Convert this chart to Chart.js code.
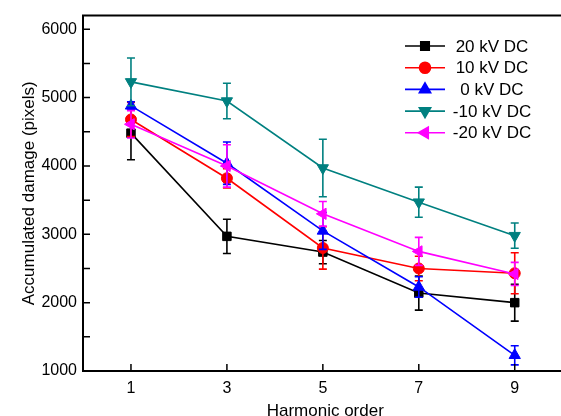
<!DOCTYPE html>
<html>
<head>
<meta charset="utf-8">
<script src="https://cdn.jsdelivr.net/npm/chart.js@4.4.1/dist/chart.umd.min.js"></script>
<style>
  html, body { margin: 0; padding: 0; overflow: hidden; background: #fff; }
  #wrap { width: 561px; height: 416px; overflow: hidden; }
</style>
</head>
<body>
<div id="wrap"><canvas id="chart" width="575" height="430"></canvas></div>
<script>
// harmonic orders and tick values
const harmonics = [1, 3, 5, 7, 9];
const xTicks = [1, 3, 5, 7, 9];
const yTicks = [1000, 2000, 3000, 4000, 5000, 6000];

// accumulated damage (pixels), mean and error per series
const kv20 = [4480, 2970, 2740, 2140, 2000];
const kv20Err = [390, 250, 170, 250, 270];
const kv10 = [4680, 3820, 2800, 2500, 2430];
const kv10Err = [250, 140, 310, 180, 300];
const kv0 = [4880, 4040, 3050, 2230, 1230];
const kv0Err = [60, 310, 270, 150, 140];
const kvm10 = [5230, 4950, 3970, 3470, 2980];
const kvm10Err = [350, 260, 420, 220, 185];
const kvm20 = [4610, 4000, 3300, 2750, 2420];
const kvm20Err = [200, 310, 180, 205, 170];

const seriesNames = ['20 kV DC', '10 kV DC', '0 kV DC', '-10 kV DC', '-20 kV DC'];
const seriesColors = ['#000000', '#ff0000', '#0000ff', '#008080', '#ff00ff'];

const FONT = "'Liberation Sans', Arial, sans-serif";

function makeSet(i, vals, errs, style, rotation, radius) {
    return {
        label: seriesNames[i],
        data: harmonics.map((h, k) => ({x: h, y: vals[k]})),
        errors: errs,
        borderColor: seriesColors[i],
        backgroundColor: seriesColors[i],
        pointBackgroundColor: seriesColors[i],
        pointBorderColor: seriesColors[i],
        borderWidth: 1.6,
        pointStyle: style,
        rotation: rotation,
        pointRadius: radius,
        pointBorderWidth: 1,
        tension: 0,
        order: 5 - i
    };
}

function marker(ctx, style, rotation, radius, x, y) {
    if (Chart.helpers && Chart.helpers.drawPoint) {
        Chart.helpers.drawPoint(ctx, {pointStyle: style, rotation: rotation, radius: radius, borderWidth: 1}, x, y);
    }
}

// error bars, drawn right after each dataset
const errorBars = {
    id: 'errorBars',
    afterDatasetDraw(chart, args) {
        const ds = chart.data.datasets[args.index];
        const xs = chart.scales.x, ys = chart.scales.y;
        const ctx = chart.ctx;
        ctx.save();
        ctx.strokeStyle = ds.borderColor;
        ctx.lineWidth = 1.6;
        ds.data.forEach((p, k) => {
            const x = xs.getPixelForValue(p.x);
            const yt = ys.getPixelForValue(p.y + ds.errors[k]);
            const yb = ys.getPixelForValue(p.y - ds.errors[k]);
            ctx.beginPath();
            ctx.moveTo(x, yt); ctx.lineTo(x, yb);
            ctx.moveTo(x - 4, yt); ctx.lineTo(x + 4, yt);
            ctx.moveTo(x - 4, yb); ctx.lineTo(x + 4, yb);
            ctx.stroke();
        });
        ctx.restore();
    }
};

// inward ticks, top frame line and the legend
const frame = {
    id: 'frame',
    afterDraw(chart) {
        const {ctx, chartArea} = chart;
        const xs = chart.scales.x, ys = chart.scales.y;
        ctx.save();
        ctx.strokeStyle = '#000';
        ctx.lineWidth = 2;
        ctx.beginPath();
        ctx.moveTo(chartArea.left - 1, chartArea.top);
        ctx.lineTo(chartArea.right, chartArea.top);
        ctx.stroke();
        ctx.lineWidth = 1.5;
        ctx.beginPath();
        for (let v = 1500; v <= 6000; v += 500) {
            const y = ys.getPixelForValue(v);
            ctx.moveTo(chartArea.left, y);
            ctx.lineTo(chartArea.left + 7, y);
        }
        xTicks.forEach(v => {
            const x = xs.getPixelForValue(v);
            ctx.moveTo(x, chartArea.bottom);
            ctx.lineTo(x, chartArea.bottom - 7);
        });
        ctx.stroke();

        // legend
        ctx.font = '17px ' + FONT;
        ctx.textAlign = 'center';
        ctx.textBaseline = 'middle';
        chart.data.datasets.forEach((ds, i) => {
            const y = 46 + i * 21.7;
            ctx.strokeStyle = ds.borderColor;
            ctx.fillStyle = ds.borderColor;
            ctx.lineWidth = 1.6;
            ctx.beginPath();
            ctx.moveTo(405, y);
            ctx.lineTo(445, y);
            ctx.stroke();
            marker(ctx, ds.pointStyle, ds.rotation, ds.pointRadius, 425, y);
            ctx.fillStyle = '#000';
            ctx.fillText(ds.label, 492, y + 1);
        });
        ctx.restore();
    }
};

new Chart(document.getElementById('chart'), {
    type: 'line',
    data: {
        datasets: [
            makeSet(0, kv20, kv20Err, 'rect', 0, 6),
            makeSet(1, kv10, kv10Err, 'circle', 0, 5.5),
            makeSet(2, kv0, kv0Err, 'triangle', 0, 6.5),
            makeSet(3, kvm10, kvm10Err, 'triangle', 180, 6.5),
            makeSet(4, kvm20, kvm20Err, 'triangle', 270, 6.5)
        ]
    },
    options: {
        responsive: false,
        animation: false,
        layout: {padding: {top: 13, right: 0, left: 0, bottom: 0}},
        plugins: {legend: {display: false}, tooltip: {enabled: false}},
        scales: {
            x: {
                type: 'linear',
                min: 0,
                max: 10.1,
                afterBuildTicks: (s) => { s.ticks = xTicks.map(v => ({value: v})); },
                afterFit: (s) => { s.height = 59; },
                grid: {display: false, drawTicks: false},
                border: {display: true, color: '#000', width: 2},
                ticks: {color: '#000', padding: 8, font: {family: FONT, size: 16}, maxRotation: 0,
                        callback: (v) => String(v)},
                title: {display: true, text: 'Harmonic order', color: '#000',
                        font: {family: FONT, size: 17}, padding: {top: 0, bottom: 8}}
            },
            y: {
                min: 1000,
                max: 6200,
                afterBuildTicks: (s) => { s.ticks = yTicks.map(v => ({value: v})); },
                afterFit: (s) => { s.width = 83; },
                grid: {display: false, drawTicks: false},
                border: {display: true, color: '#000', width: 2},
                ticks: {color: '#000', padding: 6, font: {family: FONT, size: 16},
                        callback: (v) => String(v)},
                title: {display: true, text: 'Accumulated damage (pixels)', color: '#000',
                        font: {family: FONT, size: 17}, padding: {top: 19, bottom: 0}}
            }
        }
    },
    plugins: [errorBars, frame]
});
</script>
</body>
</html>
